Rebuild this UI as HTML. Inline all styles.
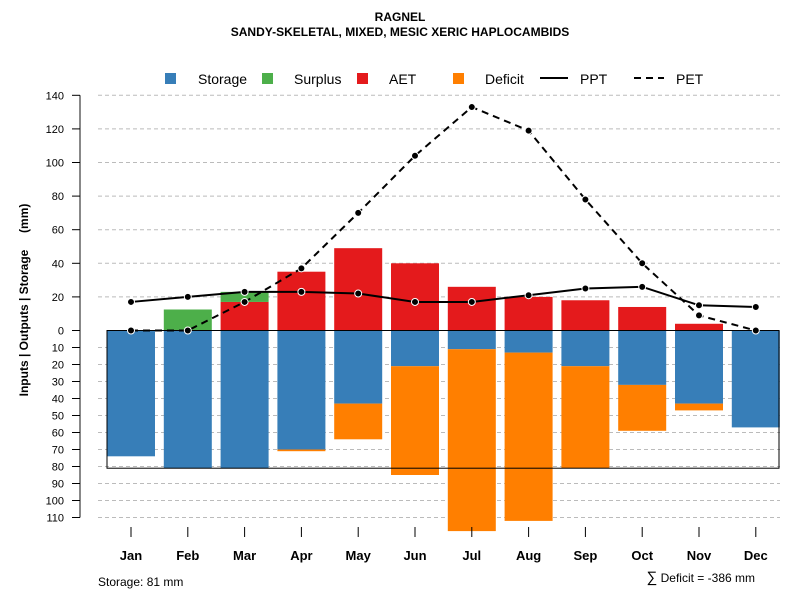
<!DOCTYPE html>
<html><head><meta charset="utf-8"><style>
body{margin:0;background:#fff;font-family:"Liberation Sans",sans-serif}
svg text{font-family:"Liberation Sans",sans-serif}
</style></head><body>
<svg id="c" width="800" height="600" xmlns="http://www.w3.org/2000/svg">
<text x="400" y="21" text-anchor="middle" font-size="12" font-weight="bold">RAGNEL</text>
<text x="400" y="36" text-anchor="middle" font-size="12" font-weight="bold">SANDY-SKELETAL, MIXED, MESIC XERIC HAPLOCAMBIDS</text>
<g id="legend"></g>
<g id="grid"></g><g id="bars"></g><g id="lines"></g><g id="axes"></g>
<text x="28" y="300" transform="rotate(-90 28 300)" text-anchor="middle" font-size="12" font-weight="bold" style="white-space:pre">Inputs | Outputs | Storage     (mm)</text>
<text x="98" y="586" font-size="12">Storage: 81 mm</text>
<text x="755" y="582" text-anchor="end" font-size="12"><tspan font-size="15">∑</tspan> Deficit = -386 mm</text>
</svg>
<script>
const months=["Jan","Feb","Mar","Apr","May","Jun","Jul","Aug","Sep","Oct","Nov","Dec"];
const storage=[74,81,81,70,43,21,11,13,21,32,43,57];
const deficit=[0,0,0,1,21,64,107,99,60,27,4,0];
const surplus=[0,12.5,6,0,0,0,0,0,0,0,0,0];
const aet=[0,0,17,35,49,40,26,20,18,14,4,0];
const ppt=[17,20,23,23,22,17,17,21,25,26,15,14];
const pet=[0,0,17,37,70,104,133,119,78,40,9,0];
const upTicks=[0,20,40,60,80,100,120,140];
const downTicks=[10,20,30,40,50,60,70,80,90,100,110];
const maxStorage=81;
const NS="http://www.w3.org/2000/svg";
function el(p,t,a){const e=document.createElementNS(NS,t);for(const k in a)e.setAttribute(k,a[k]);p.appendChild(e);return e;}
const y0=330.5;
function yUp(v){return y0-v*1.68;}
function yDn(v){return y0+v*1.7;}
function xC(i){return 131+i*56.8;}
const G=document.getElementById('grid'),B=document.getElementById('bars'),L=document.getElementById('lines'),A=document.getElementById('axes'),LG=document.getElementById('legend');
el(A,'line',{x1:80,x2:80,y1:yUp(140),y2:yDn(110),stroke:'#888','stroke-width':2});
upTicks.forEach(v=>{const y=yUp(v);
 if(v>0){const g=el(G,'line',{x1:98,x2:780,y1:y,y2:y,stroke:'#bbb','stroke-dasharray':'4,3'});}
 el(A,'line',{x1:72,x2:80,y1:y,y2:y,stroke:'#000'});
 const t=el(A,'text',{x:64,y:y+4,'text-anchor':'end','font-size':11});t.textContent=v;
 });
downTicks.forEach(v=>{const y=yDn(v);
 const g=el(G,'line',{x1:98,x2:780,y1:y,y2:y,stroke:'#bbb','stroke-dasharray':'4,3'});
 el(A,'line',{x1:72,x2:80,y1:y,y2:y,stroke:'#000'});
 const t=el(A,'text',{x:64,y:y+4,'text-anchor':'end','font-size':11});t.textContent=v;
 });
const bw=48;
months.forEach((m,i)=>{const x=xC(i)-bw/2;
 let r=el(B,'rect',{x:x,y:y0,width:bw,height:yDn(storage[i])-y0,fill:'#377eb8'});
 
 if(deficit[i]>0){r=el(B,'rect',{x:x,y:yDn(storage[i]),width:bw,height:yDn(storage[i]+deficit[i])-yDn(storage[i]),fill:'#ff7f00'});
  }
 if(aet[i]>0){r=el(B,'rect',{x:x,y:yUp(aet[i]),width:bw,height:y0-yUp(aet[i]),fill:'#e41a1c'});
  }
 if(surplus[i]>0){r=el(B,'rect',{x:x,y:yUp(aet[i]+surplus[i]),width:bw,height:yUp(aet[i])-yUp(aet[i]+surplus[i]),fill:'#4daf4a'});
  }
 el(A,'line',{x1:xC(i),x2:xC(i),y1:527,y2:537,stroke:'#000'});
 const t=el(A,'text',{x:xC(i),y:560,'text-anchor':'middle','font-size':13,'font-weight':'bold'});t.textContent=m;
 
});
let bx=el(B,'rect',{x:107,y:y0,width:672,height:yDn(maxStorage)-y0,fill:'none',stroke:'#000'});

let zl=el(B,'line',{x1:107,x2:779,y1:y0,y2:y0,stroke:'#000'});

function series(vals,dash,name){
 const p=el(L,'polyline',{points:vals.map((v,i)=>xC(i)+','+yUp(v)).join(' '),fill:'none',stroke:'#000','stroke-width':2,'stroke-dasharray':dash});
 
 vals.forEach((v,i)=>{const c=el(L,'circle',{cx:xC(i),cy:yUp(v),r:3.5,fill:'#000',stroke:'#fff','stroke-width':1});
  });
}
series(pet,'7,5','pet');
series(ppt,'none','ppt');
const leg=[["Storage","#377eb8",165,198],["Surplus","#4daf4a",262,294],["AET","#e41a1c",357,389],["Deficit","#ff7f00",453,485]];
leg.forEach(d=>{const r=el(LG,'rect',{x:d[2],y:73,width:11,height:11,fill:d[1]});
 
 const t=el(LG,'text',{x:d[3],y:84,'font-size':14});t.textContent=d[0];
 });
el(LG,'line',{x1:540,x2:568,y1:78,y2:78,stroke:'#000','stroke-width':2});
let t=el(LG,'text',{x:580,y:84,'font-size':14});t.textContent='PPT';
el(LG,'line',{x1:634,x2:664,y1:78,y2:78,stroke:'#000','stroke-width':2,'stroke-dasharray':'7,5'});
t=el(LG,'text',{x:676,y:84,'font-size':14});t.textContent='PET';
</script>
</body></html>
